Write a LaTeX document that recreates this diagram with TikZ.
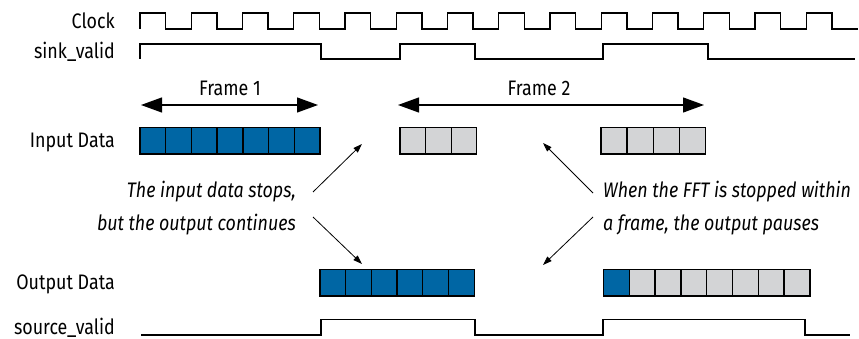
\documentclass[tikz,border=0pt]{standalone}
\usepackage{fontspec}
\setmainfont{Fira Sans}[FakeStretch=0.85]
\usetikzlibrary{arrows.meta}
\definecolor{cellblue}{RGB}{0,102,164}
\definecolor{cellgray}{RGB}{211,212,214}
\tikzset{
  wave/.style={line width=1.4pt, line join=miter},
  lbl/.style={anchor=base east, inner sep=0pt, font=\fontsize{21}{25}\selectfont},
  note/.style={inner sep=0pt, font=\itshape\fontsize{21}{25}\selectfont},
  framearrow/.style={line width=1.2pt, {Triangle[length=21pt,width=15pt]}-{Triangle[length=21pt,width=15pt]}},
  pointer/.style={line width=0.8pt, -{Triangle[length=9pt,width=6pt]}},
  bluecell/.style={draw=black, line width=1.3pt, fill=cellblue},
  graycell/.style={draw=black, line width=1.3pt, fill=cellgray}
}
\begin{document}
\begin{tikzpicture}[x=1pt,y=-1pt]
\useasboundingbox (0,0) rectangle (859,339);
% labels
\node[lbl] (lclk) at (115,29) {Clock};
\node[lbl] (lsink) at (115,59) {sink\_valid};
\node[lbl] (lin) at (115,148) {Input Data};
\node[lbl] (lout) at (115,289.5) {Output Data};
\node[lbl] (lsrc) at (115,334) {source\_valid};
% clock
\draw[wave] (140,29) foreach \k in {0,...,13} { -- ++(0,-16) -- ++(25.625,0) -- ++(0,16) -- ++(25.625,0) };
% sink_valid
\draw[wave] (140,59) -- (140,44) -- (321,44) -- (321,59) -- (400,59) -- (400,44) -- (475,44) -- (475,59) -- (603,59) -- (603,44) -- (708,44) -- (708,59) -- (855,59);
% source_valid
\draw[wave] (141,335) -- (321,335) -- (321,319.5) -- (475,319.5) -- (475,335) -- (603,335) -- (603,319.5) -- (805,319.5) -- (805,335) -- (850,335);
% frame arrows
\coordinate (f1a) at (141,105);
\coordinate (f1b) at (318,105);
\coordinate (f2a) at (398,105);
\coordinate (f2b) at (704,105);
\draw[framearrow] (f1a) -- (f1b);
\draw[framearrow] (f2a) -- (f2b);
\node[lbl, anchor=base] (fr1) at (230,96) {Frame 1};
\node[lbl, anchor=base] (fr2) at (539,96) {Frame 2};
% input data
\foreach \i in {0,...,6} \draw[bluecell] (140+\i*25.714,127.5) rectangle ++(25.714,26.5);
\foreach \i in {0,...,2} \draw[graycell] (400+\i*25.6,127.5) rectangle ++(25.6,26.5);
\foreach \i in {0,...,3} \draw[graycell] (601+\i*26.1,127.5) rectangle ++(26.1,26.5);
% output data
\foreach \i in {0,...,5} \draw[bluecell] (320+\i*25.7,269.5) rectangle ++(25.7,26.5);
\draw[bluecell] (603.5,269.5) rectangle ++(25.8,26.5);
\foreach \i in {1,...,7} \draw[graycell] (603.5+\i*25.8,269.5) rectangle ++(25.8,26.5);
% notes
\node[note, anchor=base east] (n1a) at (296,198) {The input data stops,};
\node[note, anchor=base east] (n1b) at (296,230) {but the output continues};
\node[note, anchor=base west] (n2a) at (603,198) {When the FFT is stopped within};
\node[note, anchor=base west] (n2b) at (603,230) {a frame, the output pauses};
% pointers
\coordinate (p1s) at (313,192);
\coordinate (p1e) at (362,144);
\coordinate (p2s) at (313,217);
\coordinate (p2e) at (362,264);
\coordinate (p3s) at (593,193);
\coordinate (p3e) at (543,143);
\coordinate (p4s) at (593,217);
\coordinate (p4e) at (543,265);
\draw[pointer] (p1s) -- (p1e);
\draw[pointer] (p2s) -- (p2e);
\draw[pointer] (p3s) -- (p3e);
\draw[pointer] (p4s) -- (p4e);
\end{tikzpicture}
\end{document}
